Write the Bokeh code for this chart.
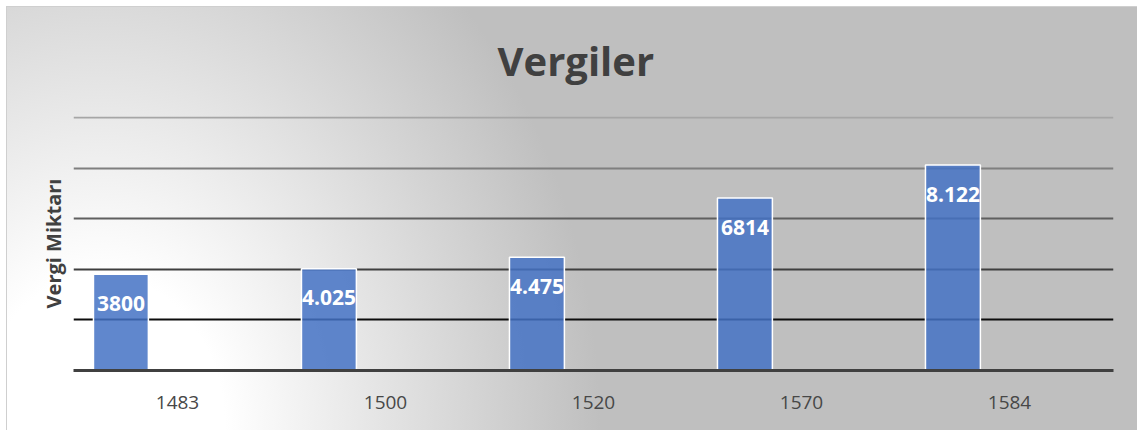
from bokeh.plotting import figure
from bokeh.models import Range1d, FactorRange, Grid, FixedTicker, ColumnDataSource
from bokeh.transform import dodge
from bokeh.core.properties import value
from bokeh.embed import file_html
from bokeh.resources import INLINE

# --- data ---
years = ["1483", "1500", "1520", "1570", "1584"]
tax_values = [3800, 4025, 4475, 6814, 8122]
tax_labels = ["3800", "4.025", "4.475", "6814", "8.122"]
grid_ticks = [2000, 4000, 6000, 8000, 10000]
grid_colors = ["#0d0d0d", "#3f3f3f", "#5f5f5f", "#7f7f7f", "#a6a6a6"]

FONT = "Open Sans"

src = ColumnDataSource(dict(year=years, val=tax_values, lab=tax_labels))

p = figure(
    width=1137, height=430,
    x_range=FactorRange(*years), y_range=Range1d(0, 10040),
    output_backend="svg", toolbar_location=None,
    min_border_left=73, min_border_right=24, min_border_top=116, min_border_bottom=60,
)
p.styles = {
    "background-color": "#ffffff",
    "background-image": (
        "radial-gradient(500px 620px at 93px 423px, #ffffff 25%, #bfbfbf 100%), "
        "linear-gradient(#cfcfcf, #cfcfcf)"
    ),
    "background-position": "7px 7px, 6px 6px",
    "background-size": "100% 100%, 100% 100%",
    "background-repeat": "no-repeat, no-repeat",
}
p.border_fill_alpha = 0
p.background_fill_alpha = 0
p.outline_line_color = None

# title
p.title.text = "Vergiler"
p.title.align = "left"
p.title.offset = 424
p.title.text_font = FONT
p.title.text_font_size = "40px"
p.title.text_font_style = "bold"
p.title.text_color = "#404040"
p.title.standoff = 57

# grids
p.xgrid.grid_line_color = None
p.ygrid.grid_line_color = None
for t, c in zip(grid_ticks, grid_colors):
    g = Grid(dimension=1, ticker=FixedTicker(ticks=[t]), grid_line_color=c, grid_line_width=2)
    p.add_layout(g)

# bars
xb = dodge("year", -0.272, range=p.x_range)
p.vbar(x=xb, top="val", width=0.264, source=src,
       fill_color="#4472C4", fill_alpha=0.85, line_color="white", line_width=1.5)

p.text(x=xb, y="val", text="lab", source=src, y_offset=29,
       text_align="center", text_baseline="middle",
       text_font=value(FONT), text_font_size="21px", text_font_style="bold",
       text_color="white")

# axes
xa = p.xaxis[0]
xa.axis_line_color = "#404040"
xa.axis_line_width = 3
xa.major_tick_line_color = None
xa.minor_tick_line_color = None
xa.major_label_text_font = FONT
xa.major_label_text_font_size = "19px"
xa.major_label_text_color = "#474747"
xa.major_label_standoff = 19

ya = p.yaxis[0]
ya.ticker = FixedTicker(ticks=[])
ya.axis_line_color = None
ya.major_tick_line_color = None
ya.minor_tick_line_color = None
ya.major_tick_out = 0
ya.major_label_standoff = 0
ya.axis_label = "Vergi Miktarı"
ya.axis_label_text_font = FONT
ya.axis_label_text_font_size = "20px"
ya.axis_label_text_font_style = "bold"
ya.axis_label_text_color = "#404040"
ya.axis_label_standoff = 7

open("out.html", "w").write(file_html(p, INLINE))
